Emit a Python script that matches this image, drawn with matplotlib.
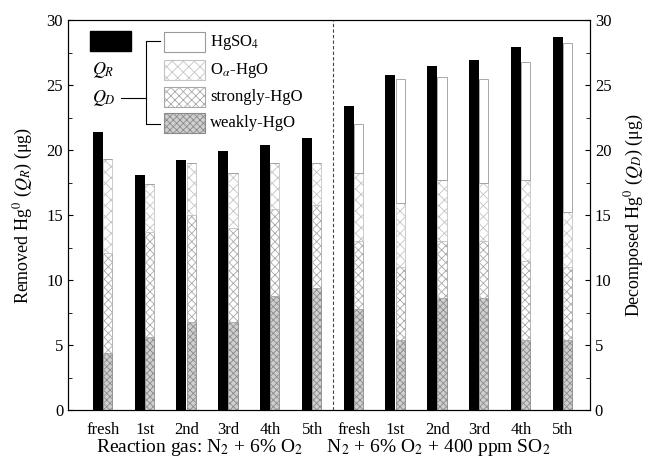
import matplotlib.pyplot as plt
from matplotlib.patches import Rectangle
import numpy as np

plt.rcParams['font.family'] = ['Liberation Serif', 'DejaVu Serif']
plt.rcParams['mathtext.fontset'] = 'stix'
plt.rcParams['hatch.linewidth'] = 0.6

labels = ['fresh', '1st', '2nd', '3rd', '4th', '5th'] * 2
# removed Hg0 (Q_R)
qr = [21.4, 18.1, 19.2, 19.9, 20.4, 20.9, 23.4, 25.8, 26.5, 26.9, 27.9, 28.7]
# decomposed Hg0 (Q_D) parts, bottom to top
weakly = [4.4, 5.6, 6.8, 6.8, 8.8, 9.4, 7.8, 5.4, 8.6, 8.6, 5.4, 5.4]
strongly = [7.7, 8.1, 8.2, 7.2, 6.7, 6.4, 5.2, 5.6, 4.4, 4.4, 6.1, 5.6]
o_alpha = [7.2, 3.7, 4.0, 4.2, 3.5, 3.2, 5.2, 4.9, 4.7, 4.5, 6.2, 4.2]
hgso4 = [0, 0, 0, 0, 0, 0, 3.8, 9.6, 7.9, 8.0, 9.1, 13.0]

x = np.arange(len(labels))
fig = plt.figure(figsize=(6.46, 4.62), dpi=100)
ax = fig.add_axes([68/646, 1-410/462, 522/646, 390/462])

ax.bar(x - 0.125, qr, width=0.24, color='black')
styles = [(weakly, '#cfcfcf', 'xxxxx', '#8a8a8a'),
          (strongly, 'white', 'xxxx', '#a8a8a8'),
          (o_alpha, 'white', 'xxx', '#c4c4c4'),
          (hgso4, 'white', '', '#9a9a9a')]
bottom = np.zeros(len(x))
for vals, fc, hatch, ec in styles:
    ax.bar(x + 0.11, vals, width=0.22, bottom=bottom, color=fc, hatch=hatch,
           edgecolor=ec, linewidth=0.6)
    bottom += np.array(vals)

ax.axvline(5.5, color='#444444', ls=(0, (3, 2)), lw=0.8)
ax.set_xlim(-0.84, 11.65)
ax.set_ylim(0, 30)
ax.set_xticks(x)
ax.set_xticklabels(labels, fontsize=12)
ax.tick_params(axis='x', length=0, pad=9)
ax.set_yticks(range(0, 31, 5))
ax.set_yticks(np.arange(2.5, 30, 5), minor=True)
ax.tick_params(axis='y', which='both', direction='in', labelsize=12)
ax.tick_params(axis='y', which='minor', length=3)
ax.set_ylabel('Removed Hg$^0$ ($Q_R$) (μg)', fontsize=13, labelpad=8)

ax2 = ax.twinx()
ax2.set_ylim(0, 30)
ax2.set_yticks(range(0, 31, 5))
ax2.set_yticks(np.arange(2.5, 30, 5), minor=True)
ax2.tick_params(axis='y', which='both', direction='in', labelsize=12)
ax2.tick_params(axis='y', which='minor', length=3)
ax2.set_ylabel('Decomposed Hg$^0$ ($Q_D$) (μg)', fontsize=13, labelpad=8)

fig.text(0.5, 1-448/462, 'Reaction gas: N$_2$ + 6% O$_2$     N$_2$ + 6% O$_2$ + 400 ppm SO$_2$',
         ha='center', va='center', fontsize=14)

# custom legend, positions in pixels of the figure
def fx(px):
    return (px - 68) / 522
def fy(py):
    return (410 - py) / 390

tr = ax.transAxes
ax.add_patch(Rectangle((fx(90), fy(51)), fx(131)-fx(90), fy(31)-fy(51), color='black', transform=tr, clip_on=False))
ax.text(fx(92), fy(70), '$Q_R$', transform=tr, fontsize=13, va='center')
ax.text(fx(92), fy(98), '$Q_D$', transform=tr, fontsize=13, va='center')
ax.plot([fx(121), fx(146)], [fy(98), fy(98)], color='black', lw=0.8, transform=tr)
ax.plot([fx(160), fx(146), fx(146), fx(160)], [fy(41), fy(41), fy(124), fy(124)], color='black', lw=0.8, transform=tr)
leg_items = [('HgSO$_4$', 'white', '', '#9a9a9a', 42),
             ('O$_\\alpha$-HgO', 'white', 'xxx', '#c4c4c4', 70),
             ('strongly-HgO', 'white', 'xxxx', '#a8a8a8', 97),
             ('weakly-HgO', '#cfcfcf', 'xxxxx', '#8a8a8a', 123)]
for name, fc, hatch, ec, yc in leg_items:
    ax.add_patch(Rectangle((fx(164), fy(yc+10)), fx(205)-fx(164), fy(yc-10)-fy(yc+10),
                           facecolor=fc, hatch=hatch, edgecolor=ec, lw=0.8, transform=tr))
    ax.text(fx(210), fy(yc), name, transform=tr, fontsize=12, va='center')

fig.savefig('out.png', dpi=100)
